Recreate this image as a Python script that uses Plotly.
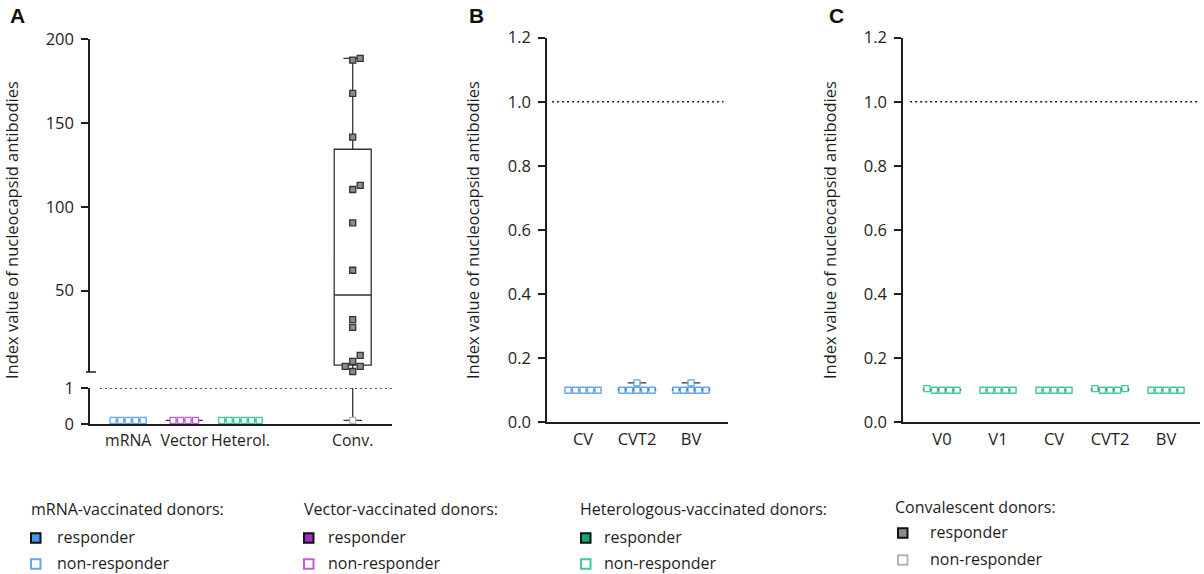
import numpy as np
import plotly.graph_objects as go

W, H = 1204, 574

# ---------------- data ----------------
# Panel A: index values per donor group
a_labels = ["mRNA", "Vector", "Heterol.", "Conv."]
a_slots = [0, 1, 2, 4]
mrna_nonresp = [0.1, 0.1, 0.1, 0.1, 0.1]
vector_nonresp = [0.1, 0.1, 0.1, 0.1]
heterol_nonresp = [0.1, 0.1, 0.1, 0.1, 0.1, 0.1]
conv_resp = [188.6, 187.6, 167.7, 141.6, 112.8, 110.4, 90.5, 62.2,
             32.7, 28.1, 11.4, 7.8, 4.8, 4.8, 1.8]
conv_nonresp = [0.1]

# Panel B: mRNA-vaccinated donors at follow-up time points
b_labels = ["CV", "CVT2", "BV"]
b_cv = [0.1, 0.1, 0.1, 0.1, 0.1]
b_cvt2 = [0.1, 0.1, 0.1, 0.1, 0.1, 0.123]
b_bv = [0.1, 0.1, 0.1, 0.1, 0.1, 0.123]

# Panel C: heterologous-vaccinated donors at follow-up time points
c_labels = ["V0", "V1", "CV", "CVT2", "BV"]
c_v0 = [0.1, 0.1, 0.1, 0.1, 0.105]
c_v1 = [0.1, 0.1, 0.1, 0.1, 0.1]
c_cv = [0.1, 0.1, 0.1, 0.1, 0.1]
c_cvt2 = [0.1, 0.1, 0.1, 0.105, 0.105]
c_bv = [0.1, 0.1, 0.1, 0.1, 0.1]

cutoff = 1.0

# legend text
leg_titles = ["mRNA-vaccinated donors:", "Vector-vaccinated donors:",
              "Heterologous-vaccinated donors:", "Convalescent donors:"]
leg_items = ["responder", "non-responder"]

# ---------------- styling ----------------
FONT = "Open Sans"
FS = 16.5
INK = "#1e1e1e"
BOXLINE = "#333333"
COL = {
    "mrna": dict(fill="#4a93e6", hollow="#63a6f2"),
    "vector": dict(fill="#9b2fc6", hollow="#c25ddb"),
    "heterol": dict(fill="#0fae6c", hollow="#3fcb93"),
    "conv": dict(fill="#8c8c8c", hollow="#b5b5b5"),
}


def px(x):
    return x / W


def py(y):
    return 1 - y / H


# plot-area geometry (pixels)
A_X = (90, 392)
A_YLOW = (388, 424)
A_YTOP = (39.3, 372)
B_X = (547, 728)
C_X = (903, 1200)
BC_Y = (37.6, 422.3)

A_XR = [-0.68, 4.7]
A_YLOW_R = [0, 1]
A_YTOP_R = [1.5, 200]
B_XR = [-0.667, 2.685]
C_XR = [-0.696, 4.607]
BC_YR = [0, 1.2]


def scale(pix, rng):
    return (pix[1] - pix[0]) / (rng[1] - rng[0])


STEP = 7.5  # swarm spacing in pixels


def swarm(values, ppy, step=STEP):
    """Horizontal beeswarm offsets (pixels) for a list of values."""
    vals = np.asarray(values, float)
    order = np.argsort(vals, kind="stable")
    cands = [0] + [k * sg for k in range(1, 30) for sg in (1, -1)]
    placed = []
    offs = np.zeros(len(vals))
    for i in order:
        yp = vals[i] * ppy
        for c in cands:
            xp = c * step
            if all(not (abs(xp - a) < step * 0.99 and abs(yp - b) < step * 0.95)
                   for a, b in placed):
                break
        placed.append((xp, yp))
        offs[i] = xp
    return offs - (offs.max() + offs.min()) / 2


def box_stats(values):
    q1, med, q3 = np.percentile(values, [25, 50, 75], method="weibull")
    return dict(q1=[q1], median=[med], q3=[q3],
                lowerfence=[min(values)], upperfence=[max(values)])


fig = go.Figure()


def add_box(slot, values, xa, ya, xppu):
    fig.add_trace(go.Box(
        x=[slot], **box_stats(values), width=37 / xppu, whiskerwidth=0.5,
        line=dict(color=BOXLINE, width=1.3), fillcolor="rgba(0,0,0,0)",
        boxpoints=False, showlegend=False, hoverinfo="skip",
        xaxis=xa, yaxis=ya))


def add_points(slot, values, xa, ya, xppu, yppu, fill, edge):
    offs = swarm(values, yppu)
    fig.add_trace(go.Scatter(
        x=slot + offs / xppu, y=values, mode="markers",
        marker=dict(symbol="square", size=6, color=fill,
                    line=dict(color=edge, width=1.3)),
        cliponaxis=False, showlegend=False, hoverinfo="skip",
        xaxis=xa, yaxis=ya))


# ---------------- panel A ----------------
ax_ppu = scale(A_X, A_XR)
alow_ppu = scale((A_YLOW[1], A_YLOW[0]), A_YLOW_R)
atop_ppu = scale((A_YTOP[1], A_YTOP[0]), A_YTOP_R)

a_sets = [
    (a_slots[0], mrna_nonresp, [], "mrna"),
    (a_slots[1], vector_nonresp, [], "vector"),
    (a_slots[2], heterol_nonresp, [], "heterol"),
    (a_slots[3], conv_nonresp, conv_resp, "conv"),
]
for slot, nonresp, resp, key in a_sets:
    allv = list(resp) + list(nonresp)
    add_box(slot, allv, "x", "y", ax_ppu)
    add_box(slot, allv, "x", "y2", ax_ppu)
for slot, nonresp, resp, key in a_sets:
    add_points(slot, nonresp, "x", "y", ax_ppu, alow_ppu, "white", COL[key]["hollow"])
    if resp:
        add_points(slot, resp, "x", "y2", ax_ppu, atop_ppu, COL[key]["fill"], BOXLINE)

# ---------------- panel B ----------------
bx_ppu = scale(B_X, B_XR)
bc_yppu = scale((BC_Y[1], BC_Y[0]), BC_YR)
for i, vals in enumerate([b_cv, b_cvt2, b_bv]):
    add_box(i, vals, "x3", "y3", bx_ppu)
for i, vals in enumerate([b_cv, b_cvt2, b_bv]):
    add_points(i, vals, "x3", "y3", bx_ppu, bc_yppu, "white", COL["mrna"]["hollow"])

# ---------------- panel C ----------------
cx_ppu = scale(C_X, C_XR)
for i, vals in enumerate([c_v0, c_v1, c_cv, c_cvt2, c_bv]):
    add_box(i, vals, "x4", "y4", cx_ppu)
for i, vals in enumerate([c_v0, c_v1, c_cv, c_cvt2, c_bv]):
    add_points(i, vals, "x4", "y4", cx_ppu, bc_yppu, "white", COL["heterol"]["hollow"])

# ---------------- key (drawn with shapes + text) ----------------
leg_keys = ["mrna", "vector", "heterol", "conv"]
key_swatch_x = [30, 303, 580, 897]       # swatch left edge
key_text_x = [56, 327, 603, 929]
key_title_x = [29, 302, 578, 893]
key_title_y = [509, 509, 509, 507]
key_row_y = [(537, 563), (537, 563), (537, 563), (532, 559)]
SW = 11.5
KFS = 16

annotations = []
shapes = []
for k, key in enumerate(leg_keys):
    annotations.append(dict(
        text=leg_titles[k], x=px(key_title_x[k]), y=py(key_title_y[k]),
        xref="paper", yref="paper", xanchor="left", yanchor="middle",
        showarrow=False, font=dict(family=FONT, size=KFS, color=INK)))
    styles = [(COL[key]["fill"], "#111111"), ("white", COL[key]["hollow"])]
    for j, item in enumerate(leg_items):
        cy = key_row_y[k][j]
        x0 = key_swatch_x[k]
        fill, edge = styles[j]
        shapes.append(dict(
            type="rect", xref="paper", yref="paper",
            x0=px(x0 + 1), x1=px(x0 + SW - 1),
            y0=py(cy + 1 + SW / 2 - 1), y1=py(cy + 1 - SW / 2 + 1),
            fillcolor=fill, line=dict(color=edge, width=2)))
        annotations.append(dict(
            text=item, x=px(key_text_x[k]), y=py(cy),
            xref="paper", yref="paper", xanchor="left", yanchor="middle",
            showarrow=False, borderpad=0,
            font=dict(family=FONT, size=KFS, color=INK)))

# panel letters
for letter, xx in [("A", 8), ("B", 467), ("C", 827)]:
    annotations.append(dict(
        text=f"<b>{letter}</b>", x=px(xx), y=py(15), xref="paper", yref="paper",
        xanchor="left", yanchor="middle", showarrow=False,
        font=dict(family="Liberation Sans", size=21, color="#111111")))

# y-axis titles
for xx in [11, 472, 829]:
    annotations.append(dict(
        text="Index value of nucleocapsid antibodies", x=px(xx), y=py(230),
        xref="paper", yref="paper", xanchor="center", yanchor="middle",
        textangle=-90, showarrow=False,
        font=dict(family=FONT, size=FS, color=INK)))

# ---------------- reference lines ----------------
DOT = dict(color=INK, width=1.5, dash="2px,3px")
shapes += [
    dict(type="line", xref="x domain", yref="y", x0=0.033, x1=1.0,
         y0=cutoff, y1=cutoff, line=DOT),
    dict(type="line", xref="x3 domain", yref="y3", x0=0.028, x1=0.975,
         y0=cutoff, y1=cutoff, line=DOT),
    dict(type="line", xref="x4 domain", yref="y4", x0=0.024, x1=1.0,
         y0=cutoff, y1=cutoff, line=DOT),
    # axis-break mark at the foot of the upper segment
    dict(type="line", xref="paper", yref="y2 domain",
         x0=px(A_X[0] - 4), x1=px(A_X[0] + 6), y0=0, y1=0,
         line=dict(color=INK, width=1.5)),
]

axis_common = dict(showline=True, linecolor=INK, linewidth=1.5, showgrid=False,
                   zeroline=False, automargin=False,
                   tickfont=dict(family=FONT, size=FS, color=INK),
                   fixedrange=True)
yaxis_common = dict(axis_common, ticks="outside", ticklen=7, tickwidth=1.5,
                    tickcolor=INK, ticklabelstandoff=4)
xaxis_common = dict(axis_common, ticks="outside", ticklen=1, tickangle=0,
                    tickcolor="rgba(0,0,0,0)")

fig.update_layout(
    width=W, height=H, margin=dict(l=0, r=0, t=0, b=0, autoexpand=False),
    paper_bgcolor="white", plot_bgcolor="white", boxmode="overlay",
    showlegend=False,
    font=dict(family=FONT, size=FS, color=INK),
    xaxis=dict(xaxis_common, domain=[px(A_X[0]), px(A_X[1])], range=A_XR,
               anchor="y", tickvals=a_slots, ticktext=a_labels,
               tickfont=dict(family=FONT, size=15.8, color=INK)),
    yaxis=dict(yaxis_common, domain=[py(A_YLOW[1]), py(A_YLOW[0])],
               range=A_YLOW_R, anchor="x", tickvals=[0, 1]),
    yaxis2=dict(yaxis_common, domain=[py(A_YTOP[1]), py(A_YTOP[0])],
                range=A_YTOP_R, anchor="x", tickvals=[50, 100, 150, 200]),
    xaxis3=dict(xaxis_common, domain=[px(B_X[0]), px(B_X[1])], range=B_XR,
                anchor="y3", tickvals=[0, 1, 2], ticktext=b_labels),
    yaxis3=dict(yaxis_common, domain=[py(BC_Y[1]), py(BC_Y[0])], range=BC_YR,
                anchor="x3", tickvals=[0, 0.2, 0.4, 0.6, 0.8, 1.0, 1.2],
                tickformat=".1f"),
    xaxis4=dict(xaxis_common, domain=[px(C_X[0]), px(C_X[1])], range=C_XR,
                anchor="y4", tickvals=[0, 1, 2, 3, 4], ticktext=c_labels),
    yaxis4=dict(yaxis_common, domain=[py(BC_Y[1]), py(BC_Y[0])], range=BC_YR,
                anchor="x4", tickvals=[0, 0.2, 0.4, 0.6, 0.8, 1.0, 1.2],
                tickformat=".1f"),
    annotations=annotations,
    shapes=shapes,
)

fig.write_html("out.html")
